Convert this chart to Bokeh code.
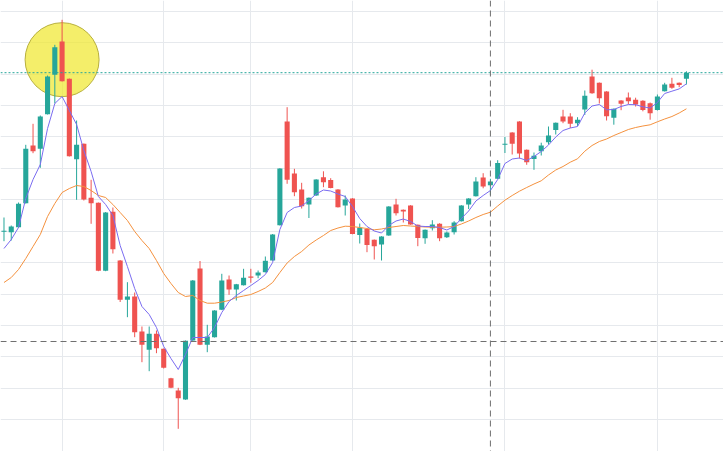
from bokeh.plotting import figure
from bokeh.models import Range1d, Span, FixedTicker, ColumnDataSource
from bokeh.embed import file_html
from bokeh.resources import INLINE

# ---- data (price units, arbitrary scale) ----
opens = [268.7, 268.3, 273.3, 297.3, 355, 351.7, 386.3, 425.7, 459, 421.7,
         341.3, 356.7, 302.7, 297.7, 229.7, 288.7, 240, 200.7, 204, 169,
         150.7, 166.7, 151.7, 122.3, 110, 101, 160, 232, 155.7, 163.3,
         190.7, 221, 211, 215.3, 224, 225, 228.3, 240, 275.3, 379,
         327, 311, 296, 305, 323.3, 320.5, 311, 295, 302, 265.5,
         271.5, 260.7, 256, 265, 296, 290.7, 295, 275.8, 262.3, 272.3,
         276.7, 263.3, 268.3, 279.3, 296, 304.2, 323, 315.2, 321.7, 355.8,
         368, 379, 350.7, 341.5, 349.3, 358.3, 370.4, 384, 384, 377.3,
         391, 424, 417.7, 409, 382.7, 400, 403, 400.7, 399.7, 397.3,
         390.4, 409.3, 416.7, 417.7, 421.7]
highs = [283, 275, 298, 355.7, 376.7, 385, 425, 455.7, 480.7, 422,
         380, 357, 320.7, 298, 288.5, 293, 240.5, 218.3, 208, 174,
         174, 170, 152, 122.7, 112.7, 160, 220.5, 239.5, 175.7, 190.3,
         226.7, 225, 216.6, 231.7, 231.7, 230, 244, 266.5, 332.3, 393.3,
         331.7, 317.7, 303, 321.3, 329.2, 322.3, 311.3, 305, 302.3, 277,
         271.8, 261, 264.3, 294.3, 301.7, 291, 295.3, 276, 271, 280.3,
         277.3, 269, 279.3, 295.3, 302.3, 323.3, 327.3, 321.7, 340.3, 363.5,
         368.3, 379.3, 351, 348, 357.8, 374, 378, 390.7, 387.3, 383.3,
         410, 430.8, 418, 409.3, 392, 400.3, 408, 402.8, 400.3, 398,
         406, 417.7, 422.7, 418, 429.2]
lows = [259.3, 260, 272.7, 297, 347.3, 332.7, 386, 397, 419, 344,
        300.7, 300, 276.7, 229.3, 229.3, 247, 198.5, 183.3, 163.3, 138.3,
        129.3, 147.3, 132, 112.3, 71.7, 100.7, 159.7, 155.4, 148.3, 163,
        190.4, 205.7, 200, 215, 217.7, 222.3, 228, 239.7, 275, 316.7,
        304.3, 292, 282.5, 304.7, 313.3, 312.2, 293, 285, 266.2, 257,
        248.3, 241, 240, 264.7, 285, 278, 275.7, 254.3, 256.7, 270,
        259.3, 262.5, 266, 279, 291.5, 304, 312.2, 305.5, 321.5, 347.5,
        346, 342, 335.7, 330.7, 345, 356, 366, 377.3, 372.5, 374.5,
        385.5, 406.7, 397, 380, 375.8, 390.3, 396.3, 394, 389.2, 380.8,
        390, 409, 411.7, 413.3, 416]
closes = [269.7, 274, 296.7, 351.7, 349.3, 384, 424, 453.3, 419.3, 344.3,
          355.7, 301, 297.3, 229.7, 288, 251.3, 200.7, 204, 168.3, 155.7,
          166.7, 152.3, 132.7, 112.7, 102.3, 159.7, 220, 155.7, 164, 190,
          220, 211, 216.3, 222.7, 222.7, 228, 239.7, 266, 332, 320.7,
          308.3, 294.3, 302.7, 321, 318.3, 312.5, 293.3, 301, 266.5, 272.8,
          255.5, 254.3, 264, 294, 287.3, 289, 276, 262.5, 270.7, 276,
          262.3, 268, 278, 295, 302, 319, 314, 319, 337.5, 356.8,
          356.7, 347, 338.3, 344.8, 355, 365, 377.7, 379, 376.7, 380.7,
          404.8, 407.3, 402.3, 384.3, 391.7, 396.7, 399.2, 396, 390.4, 387.3,
          404, 416, 412.7, 415.5, 427.8]
ma_fast = [252, 261, 273, 302, 321, 336, 372, 397, 404, 390,
           376, 350, 329, 304, 296, 285, 255, 234, 212, 194,
           186, 173, 154, 142, 131, 146, 163, 163, 163, 173,
           188, 199, 205, 210, 215, 220, 226, 238, 271, 288,
           293, 294.5, 300, 306.5, 310.5, 309.5, 306.5, 304, 294, 282,
           274, 269.5, 267.5, 275, 279.5, 281.5, 279, 274.5, 274, 274,
           273, 270.5, 274, 282, 289.5, 299.5, 305, 310, 321, 337,
           341.5, 342.5, 340, 344, 349, 355.5, 363.5, 370, 372.5, 374,
           387.5, 394.5, 396, 390.7, 391, 394, 396, 395.8, 393.7, 392.5,
           398, 407, 409.3, 411.6, 416.7]
ma_slow = [218, 223, 231, 242, 254, 266, 284, 297, 308, 312,
           315, 314, 310, 305, 303, 296, 288, 280, 269, 260,
           252, 240, 227, 217, 208, 204, 205, 200, 197.3, 197.3,
           198.5, 200, 203, 204.5, 206, 209, 212.5, 218, 228, 237.5,
           244, 249, 255.5, 260.5, 265, 270, 272.5, 274.3, 274, 273,
           272, 270.7, 271.5, 273, 274, 275, 274.5, 274, 273.5, 273.3,
           273.3, 273.5, 274, 276.5, 279.5, 283, 286, 288.3, 294.5, 300.3,
           305, 309.3, 313, 316.5, 319.7, 325.5, 330.5, 334, 338.3, 341.7,
           349.3, 355, 359, 361.5, 365, 368, 371, 373, 374.5, 375.7,
           378.7, 381.5, 384, 387.5, 391.7]
x_grid_ticks = [8, 22, 34, 48, 69, 90]
y_grid_ticks = [489.3, 457.9, 426.4, 395.0, 363.6, 332.1, 300.7, 269.3,
                237.9, 206.4, 175.0, 143.6, 112.1, 80.7, 49.3]
highlight_index = 8
highlight_level = 440.8
cross_index = 67
cross_level = 159.0

UP = "#26a69a"
DOWN = "#ef5350"

idx = list(range(len(opens)))
colors = [UP if c >= o else DOWN for o, c in zip(opens, closes)]
body_mid = [(o + c) / 2 for o, c in zip(opens, closes)]
body_h = [max(abs(c - o), 1.0) for o, c in zip(opens, closes)]

src = ColumnDataSource(dict(x=idx, o=opens, h=highs, l=lows, c=closes,
                            col=colors, mid=body_mid, bh=body_h,
                            fast=ma_fast, slow=ma_slow))

p = figure(width=723, height=451, output_backend="svg", toolbar_location=None,
           x_range=Range1d(-0.482, 99.105), y_range=Range1d(49, 500),
           min_border=0, min_border_left=0, min_border_right=0,
           min_border_top=0, min_border_bottom=0)
p.axis.visible = False
p.outline_line_color = None
p.background_fill_color = "white"
p.border_fill_color = "white"

p.xgrid.ticker = FixedTicker(ticks=x_grid_ticks)
p.ygrid.ticker = FixedTicker(ticks=y_grid_ticks)
for g in (p.xgrid, p.ygrid):
    g.grid_line_color = "#e6e9ed"
    g.grid_line_width = 1

# highlight circle
p.scatter([highlight_index], [highlight_level], marker="circle", size=74,
          fill_color="#f0e830", fill_alpha=0.72, line_color="#b8b03c",
          line_width=1)

# candles
p.segment(x0="x", y0="h", x1="x", y1="l", color="col", line_width=1, source=src)
p.rect(x="x", y="mid", width=0.7, height="bh", fill_color="col",
       line_color=None, source=src)

# moving averages
p.line("x", "slow", color="#f4913e", line_width=1, source=src)
p.line("x", "fast", color="#7a6cf0", line_width=1, source=src)

# last price line
p.add_layout(Span(location=closes[-1], dimension="width", line_color=UP,
                  line_width=1, line_dash="2 2"))
# crosshair
p.add_layout(Span(location=cross_index, dimension="height", line_color="#707070",
                  line_width=1, line_dash="6 4"))
p.add_layout(Span(location=cross_level, dimension="width", line_color="#707070",
                  line_width=1, line_dash="6 4"))

open("out.html", "w").write(file_html(p, INLINE))
